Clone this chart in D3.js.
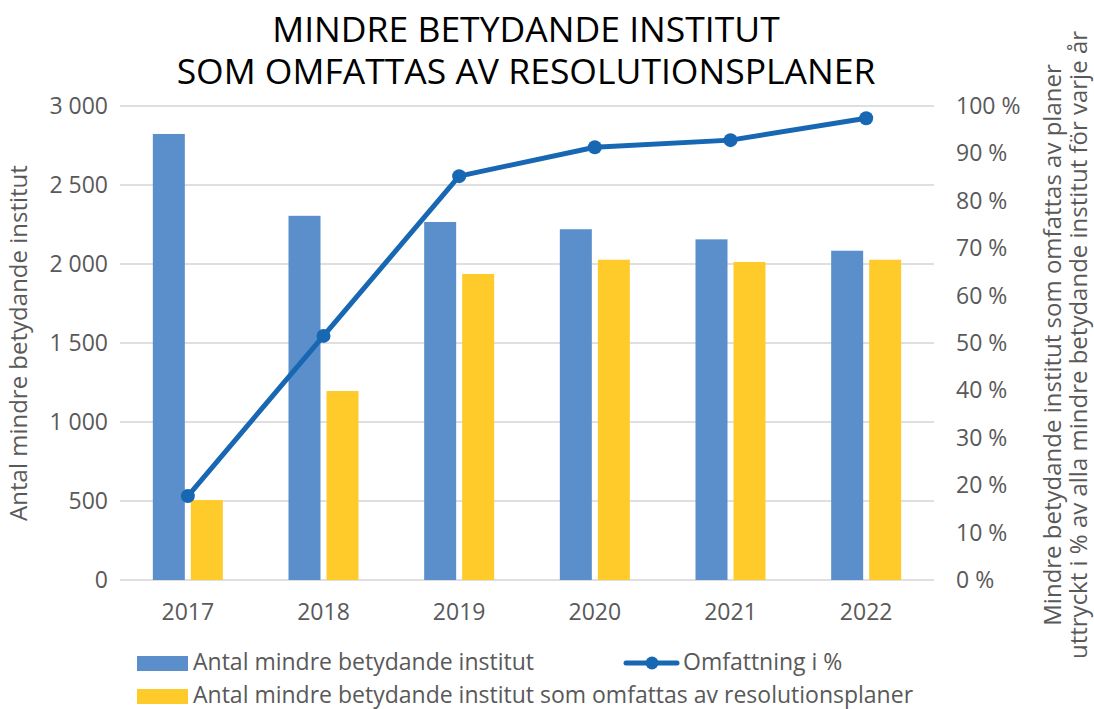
<!DOCTYPE html>
<html><head><meta charset="utf-8">
<script src="https://cdn.jsdelivr.net/npm/d3@7"></script>
<style>
html,body{margin:0;padding:0;background:#fff;}
svg{display:block;font-family:"Open Sans","Noto Sans",sans-serif;}
</style></head>
<body>
<svg id="chart" width="1094" height="709"></svg>
<script>
const years = ["2017","2018","2019","2020","2021","2022"];
const totalInstitutes = [2823, 2305, 2266, 2220, 2156, 2084];
const coveredInstitutes = [506, 1196, 1937, 2027, 2013, 2027];
const coveragePct = [17.7, 51.5, 85.2, 91.3, 92.8, 97.4];
const leftTicks = [0, 500, 1000, 1500, 2000, 2500, 3000];
const leftTickLabels = ["0", "500", "1 000", "1 500", "2 000", "2 500", "3 000"];
const rightTicks = [0,10,20,30,40,50,60,70,80,90,100];
const rightTickLabels = ["0 %","10 %","20 %","30 %","40 %","50 %","60 %","70 %","80 %","90 %","100 %"];
const titleLines = ["MINDRE BETYDANDE INSTITUT", "SOM OMFATTAS AV RESOLUTIONSPLANER"];
const leftAxisTitle = "Antal mindre betydande institut";
const rightAxisTitle = ["Mindre betydande institut som omfattas av planer", "uttryckt i % av alla mindre betydande institut för varje år"];
const legendLabels = ["Antal mindre betydande institut", "Omfattning i %", "Antal mindre betydande institut som omfattas av resolutionsplaner"];

const BLUE = "#5b8fcb", YELLOW = "#ffcb2a", LINE = "#1767b3", TXT = "#595959", GRID = "#d5d5d5";
const FS = 23;

const svg = d3.select("#chart");
const L = 120, R = 934, T = 106, B = 580;

const x = d3.scaleBand().domain(years).range([L, R]);
const yL = d3.scaleLinear().domain([0, 3000]).range([B, T]);
const yR = d3.scaleLinear().domain([0, 100]).range([B, T]);

// title
svg.append("g").selectAll("text").data(titleLines).join("text")
  .attr("x", 526).attr("y", (d,i) => 42 + i*41.5)
  .attr("text-anchor", "middle").attr("font-size", 35.5).attr("fill", "#000")
  .text(d => d);

// grid
svg.append("g").selectAll("line").data(leftTicks).join("line")
  .attr("x1", L).attr("x2", R).attr("y1", d => yL(d)).attr("y2", d => yL(d))
  .attr("stroke", GRID).attr("stroke-width", 1.5);

// left tick labels
svg.append("g").selectAll("text").data(leftTicks).join("text")
  .attr("x", 108).attr("y", d => yL(d)).attr("dy", "0.35em")
  .attr("text-anchor", "end").attr("font-size", FS).attr("fill", TXT)
  .text((d,i) => leftTickLabels[i]);

// right tick labels
svg.append("g").selectAll("text").data(rightTicks).join("text")
  .attr("x", 956).attr("y", d => yR(d)).attr("dy", "0.35em")
  .attr("text-anchor", "start").attr("font-size", FS).attr("fill", TXT)
  .text((d,i) => rightTickLabels[i]);

// x labels
svg.append("g").selectAll("text").data(years).join("text")
  .attr("x", d => x(d) + x.bandwidth()/2).attr("y", 620)
  .attr("text-anchor", "middle").attr("font-size", FS).attr("fill", TXT)
  .text(d => d);

// bars
const bw = 32, gap = 6;
svg.append("g").selectAll("rect").data(years).join("rect")
  .attr("x", d => x(d) + x.bandwidth()/2 - gap/2 - bw)
  .attr("y", (d,i) => yL(totalInstitutes[i]))
  .attr("width", bw).attr("height", (d,i) => B - yL(totalInstitutes[i]))
  .attr("fill", BLUE);
svg.append("g").selectAll("rect").data(years).join("rect")
  .attr("x", d => x(d) + x.bandwidth()/2 + gap/2)
  .attr("y", (d,i) => yL(coveredInstitutes[i]))
  .attr("width", bw).attr("height", (d,i) => B - yL(coveredInstitutes[i]))
  .attr("fill", YELLOW);

// line
const lineGen = d3.line().x((d,i) => x(years[i]) + x.bandwidth()/2).y(d => yR(d));
svg.append("path").datum(coveragePct).attr("d", lineGen)
  .attr("fill", "none").attr("stroke", LINE).attr("stroke-width", 5).attr("stroke-linejoin", "round");
svg.append("g").selectAll("circle").data(coveragePct).join("circle")
  .attr("cx", (d,i) => x(years[i]) + x.bandwidth()/2).attr("cy", d => yR(d))
  .attr("r", 7).attr("fill", LINE);

// axis titles
svg.append("text").attr("transform", "translate(27,343) rotate(-90)")
  .attr("text-anchor", "middle").attr("font-size", 24).attr("fill", TXT)
  .text(leftAxisTitle);
svg.append("g").selectAll("text").data(rightAxisTitle).join("text")
  .attr("transform", (d,i) => `translate(${1061 + i*26},345) rotate(-90)`)
  .attr("text-anchor", "middle").attr("font-size", 24).attr("fill", TXT)
  .text(d => d);

// legend
const lg = svg.append("g");
lg.append("rect").attr("x", 137).attr("y", 656).attr("width", 51).attr("height", 15).attr("fill", BLUE);
lg.append("text").attr("x", 193).attr("y", 670).attr("font-size", FS).attr("fill", TXT).text(legendLabels[0]);
lg.append("line").attr("x1", 626).attr("x2", 677).attr("y1", 663).attr("y2", 663)
  .attr("stroke", LINE).attr("stroke-width", 5).attr("stroke-linecap", "round");
lg.append("circle").attr("cx", 652).attr("cy", 663).attr("r", 6.5).attr("fill", LINE);
lg.append("text").attr("x", 683).attr("y", 670).attr("font-size", FS).attr("fill", TXT).text(legendLabels[1]);
lg.append("rect").attr("x", 137).attr("y", 689).attr("width", 51).attr("height", 15).attr("fill", YELLOW);
lg.append("text").attr("x", 193).attr("y", 702.5).attr("font-size", FS).attr("fill", TXT).text(legendLabels[2]);
</script>
</body></html>
